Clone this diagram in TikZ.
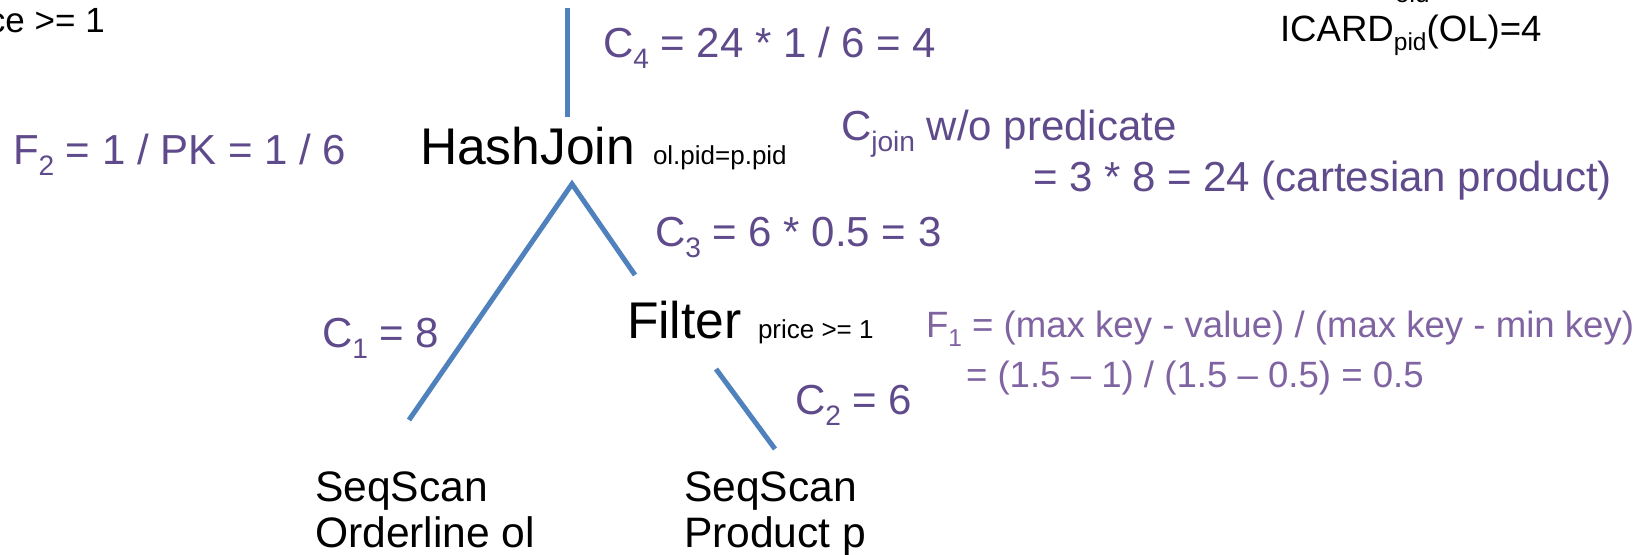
\documentclass[tikz,border=0pt]{standalone}
\usepackage{fontspec}
\setmainfont{Liberation Sans}
\usepackage{graphicx}
\definecolor{lbl}{HTML}{5F4B8B}
\definecolor{lbllight}{HTML}{8064A2}
\definecolor{edge}{HTML}{4F81BD}
\newcommand{\lowsub}[1]{\raisebox{-0.24em}{\scalebox{0.67}{#1}}}
\tikzset{
  txt/.style={anchor=base west, inner sep=0pt, outer sep=0pt},
  cost/.style={txt, text=lbl, font=\fontsize{21pt}{25pt}\selectfont},
  note/.style={txt, text=lbllight, font=\fontsize{18.3pt}{22pt}\selectfont},
  op/.style={txt, text=black, font=\fontsize{25.8pt}{30pt}\selectfont},
  pred/.style={txt, text=black, font=\fontsize{13pt}{15pt}\selectfont},
  scan/.style={txt, text=black, font=\fontsize{21.3pt}{25pt}\selectfont},
  plain/.style={txt, text=black, font=\fontsize{18.3pt}{22pt}\selectfont},
  tree/.style={draw=edge, line width=2.5pt}
}
\begin{document}
\begin{tikzpicture}[x=0.5pt, y=-0.5pt]
\useasboundingbox (0,0) rectangle (1646,555);
% fragments at the top edge
\node[plain, font=\fontsize{17.5pt}{21pt}\selectfont] (cut1) at (-12,33) {ce >= 1};
\node[pred] (cut2) at (1395,3) {old};
\node[plain] (icard) at (1280,42) {ICARD\lowsub{pid}(OL)=4};
% operators
\node[op] (hj) at (420,165) {HashJoin};
\node[pred] (hjp) at (653,165) {ol.pid=p.pid};
\node[op] (flt) at (627,339) {Filter};
\node[pred] (fltp) at (758,339) {price >= 1};
\node[scan] (s1a) at (315,502) {SeqScan};
\node[scan] (s1b) at (315,548) {Orderline ol};
\node[scan] (s2a) at (684,502) {SeqScan};
\node[scan] (s2b) at (684,548) {Product p};
% cost labels
\node[cost] (c4) at (603,58) {C\lowsub{4} = 24 * 1 / 6 = 4};
\node[cost] (f2) at (13,165) {F\lowsub{2} = 1 / PK = 1 / 6};
\node[cost] (cj1) at (841,141) {C\lowsub{join} w/o predicate};
\node[cost] (cj2) at (1033,192) {= 3 * 8 = 24 (cartesian product)};
\node[cost] (c3) at (655,247) {C\lowsub{3} = 6 * 0.5 = 3};
\node[cost] (c1) at (322,348) {C\lowsub{1} = 8};
\node[cost] (c2) at (795,415) {C\lowsub{2} = 6};
\node[note] (f1a) at (926,338) {F\lowsub{1} = (max key - value) / (max key - min key)};
\node[note] (f1b) at (966,388) {= (1.5 – 1) / (1.5 – 0.5) = 0.5};
% connector end points
\coordinate (top) at (567,8);
\coordinate (hjUp) at (567,117);
\coordinate (hjDown) at (572,184);
\coordinate (leftEnd) at (409,420);
\coordinate (rightEnd) at (635,275);
\coordinate (fltDown) at (716,369);
\coordinate (scanEnd) at (775,449);
\draw[tree] (top) -- (hjUp);
\draw[tree, line join=miter] (leftEnd) -- (hjDown) -- (rightEnd);
\draw[tree] (fltDown) -- (scanEnd);
\end{tikzpicture}
\end{document}
